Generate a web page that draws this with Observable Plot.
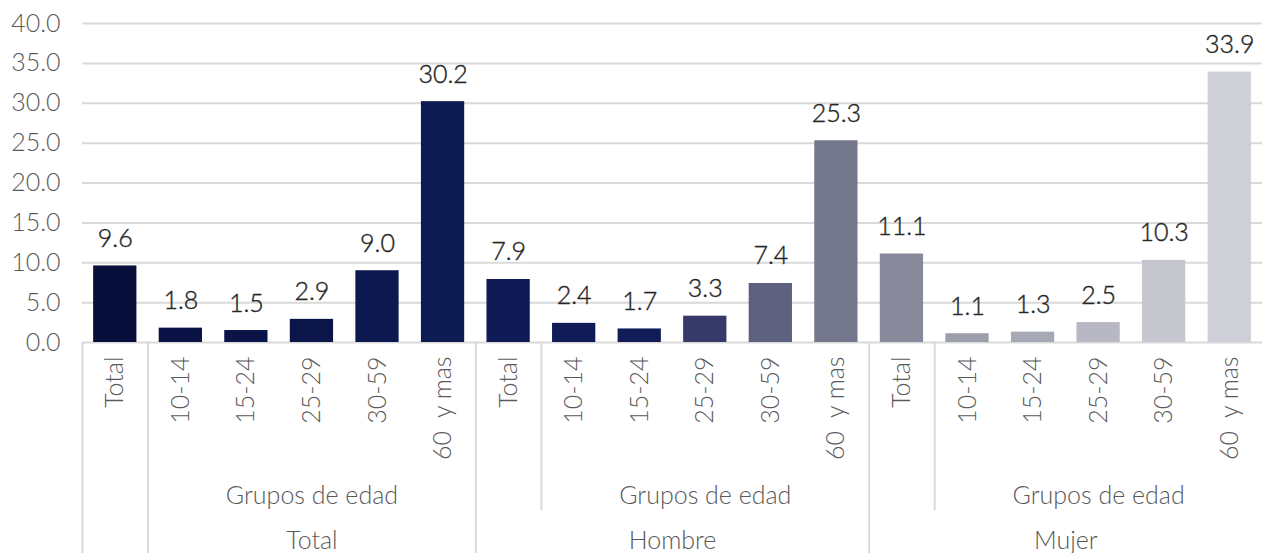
<!DOCTYPE html>
<html><head><meta charset="utf-8">
<script src="https://cdn.jsdelivr.net/npm/d3@7"></script>
<script src="https://cdn.jsdelivr.net/npm/@observablehq/plot@0.6"></script>
<style>
body{margin:0;background:#fff}
svg{font-family:Lato,"Open Sans",sans-serif}
</style>
</head><body><div id="chart"></div>
<script>
// ---- data ----
const sexes = ["Total", "Hombre", "Mujer"];
const ageGroups = ["Total", "10-14", "15-24", "25-29", "30-59", "60  y mas"];
const totalValues = [9.6, 1.8, 1.5, 2.9, 9.0, 30.2];
const hombreValues = [7.9, 2.4, 1.7, 3.3, 7.4, 25.3];
const mujerValues = [11.1, 1.1, 1.3, 2.5, 10.3, 33.9];
const barColors = [
  "#080f3a", "#0b1245", "#0b1449", "#0c154a", "#0d1850", "#0e1a52",
  "#0f1a55", "#111c56", "#121d57", "#373a69", "#5d607f", "#75778c",
  "#888a9c", "#9d9eac", "#a7a8b5", "#b7b8c3", "#c5c6ce", "#cfd0d7"
];
const yTicks = [0, 5, 10, 15, 20, 25, 30, 35, 40];
const subgroupLabel = "Grupos de edad";

// ---- layout ----
const W = 1262, H = 553;
const mL = 82, mR = 0, mT = 23, mB = 211;
const step = (W - mL - mR) / (sexes.length * ageGroups.length);
const pxPerUnit = (H - mT - mB) / 40;
const fullDrop = -(H - (H - mB)) / pxPerUnit;
const shortDrop = -(510 - (H - mB)) / pxPerUnit;

const seriesValues = [totalValues, hombreValues, mujerValues];
const rows = [];
sexes.forEach((s, si) => ageGroups.forEach((a, ai) => {
  rows.push({key: s + "|" + a, sex: s, age: a, value: seriesValues[si][ai], color: barColors[rows.length]});
}));
const keys = rows.map(d => d.key);

const separators = [];
sexes.forEach((s, si) => {
  separators.push({key: keys[si * 6], drop: fullDrop});
  separators.push({key: keys[si * 6 + 1], drop: si === 0 ? fullDrop : shortDrop});
});
const midKeys = sexes.map((s, si) => keys[si * 6 + 3]);

const font = 25;
const fw = 300;
const chart = Plot.plot({
  width: W, height: H,
  marginLeft: mL, marginRight: mR, marginTop: mT, marginBottom: mB,
  style: {fontFamily: "Lato, 'Open Sans', sans-serif", background: "#fff", overflow: "visible"},
  x: {type: "band", domain: keys, paddingInner: 0.34, paddingOuter: 0.17, round: false, axis: null},
  y: {domain: [0, 40], axis: null},
  color: {type: "identity"},
  marks: [
    Plot.ruleY(yTicks, {y: d => d, stroke: "#d9d9d9", strokeWidth: 2}),
    Plot.text(yTicks, {y: d => d, text: d => d.toFixed(1), frameAnchor: "left", textAnchor: "end", dx: -22, fontSize: font, fontWeight: fw, fill: "#595959"}),
    Plot.barY(rows, {x: "key", y: "value", fill: "color"}),
    Plot.text(rows, {x: "key", y: "value", text: d => d.value.toFixed(1), lineAnchor: "bottom", dy: -19, fontSize: font, fontWeight: fw, fill: "#262626", stroke: "#262626", strokeWidth: 0.4}),
    Plot.ruleX(separators, {x: "key", y1: 0, y2: "drop", dx: -step / 2, stroke: "#d9d9d9", strokeWidth: 2}),
    Plot.text(rows, {x: "key", y: 0, text: "age", rotate: -90, textAnchor: "end", lineAnchor: "middle", dy: 14, fontSize: font, fontWeight: fw, fill: "#595959", style: "white-space:pre"}),
    Plot.text(midKeys, {x: d => d, y: 0, text: () => subgroupLabel, lineAnchor: "middle", dy: 153, fontSize: font, fontWeight: fw, fill: "#595959"}),
    Plot.text([midKeys[0]], {x: d => d, y: 0, text: () => sexes[0], lineAnchor: "middle", dy: 198, fontSize: font, fontWeight: fw, fill: "#595959"}),
    Plot.text(midKeys.slice(1), {x: d => d, y: 0, text: d => d.split("|")[0], lineAnchor: "middle", dy: 198, dx: -step / 2, fontSize: font, fontWeight: fw, fill: "#595959"})
  ]
});
document.getElementById("chart").appendChild(chart);
</script>
</body></html>
